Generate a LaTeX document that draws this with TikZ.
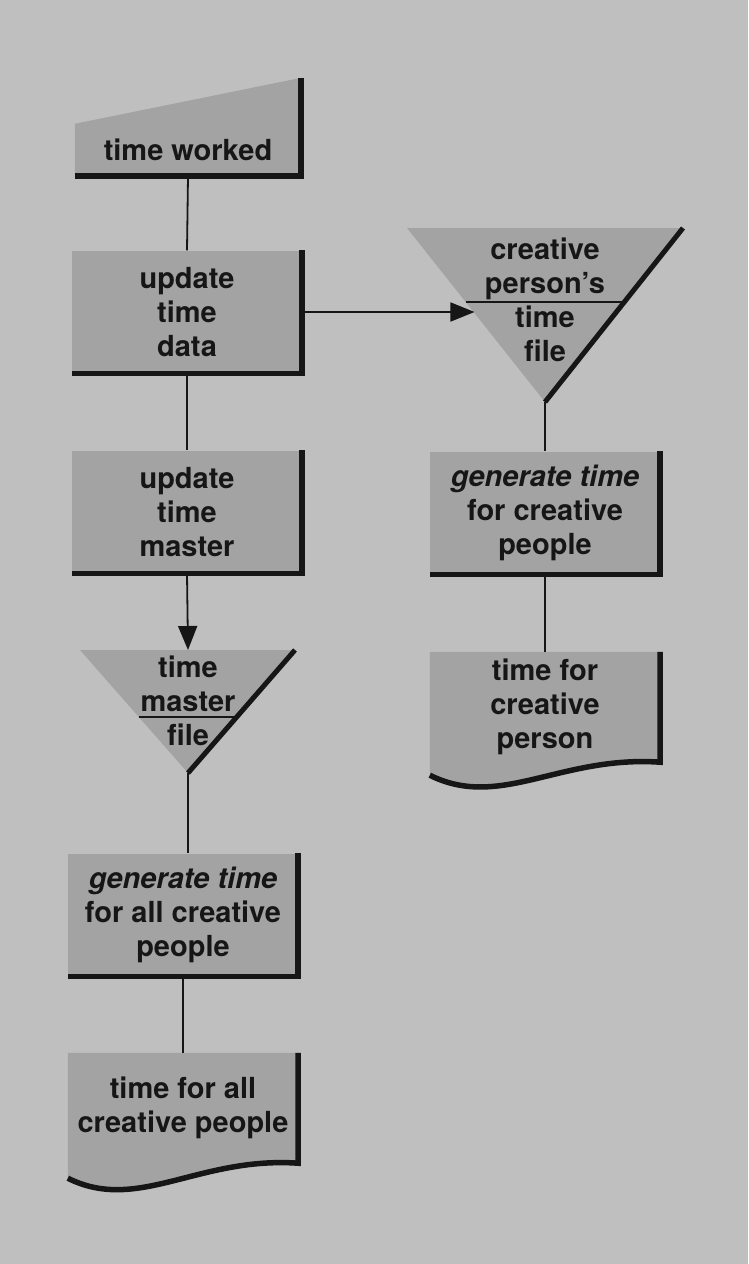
\documentclass[tikz,border=0pt]{standalone}
\usepackage{fontspec}
\setmainfont{TeX Gyre Heros}
\usepackage{xcolor}
\usepackage{tikz}
\usetikzlibrary{arrows.meta,positioning,backgrounds,calc}
\definecolor{pbg}{HTML}{BFBFBF}
\definecolor{pbox}{HTML}{A3A3A3}
\definecolor{pink}{HTML}{161616}
\tikzset{
  procbox/.style={fill=pbox,minimum width=230pt,minimum height=123pt,
                  align=center,inner sep=0pt},
  docbox/.style={minimum width=230pt,minimum height=110pt,
                 align=center,inner sep=0pt},
  lbl/.style={align=center,inner sep=0pt},
  edge/.style={draw=pink,line width=5.5pt,line join=miter},
  conn/.style={draw=pink,line width=1.8pt},
  arr/.style={conn,-{Triangle[length=24pt,width=19pt]}},
}

\begin{document}
\begin{tikzpicture}[x=1pt,y=-1pt,text=pink,
                    font=\fontsize{29}{34}\selectfont\bfseries]

      \begin{scope}[on background layer]
        \fill[pbg] (0,0) rectangle (748,1264);
      \end{scope}
      \useasboundingbox (0,0) rectangle (748,1264);

      % time worked (manual input)
      \node[lbl,minimum width=226pt,minimum height=52pt] (tw) at (188,150) {time worked};

      % left column
      \node[procbox] (utd) at (187,312) {update\\time\\data};
      \node[procbox] (utm) at (187,512) {update\\time\\master};

      % time master file
      \coordinate (tmfl) at (80,650);
      \coordinate (tmfr) at (295,650);
      \coordinate (tmfa) at (188,773);
      \coordinate (tmft) at (188,650);
      \node[lbl] (tmf) at (188,701) {time\\master\\file};

      \node[procbox] (gap) at (183,915) {\textit{generate time}\\for all creative\\people};
      \node[docbox] (tap) at (183,1108) {time for all\\creative people};

      % right column
      \coordinate (cpfl) at (407,228);
      \coordinate (cpfr) at (683,228);
      \coordinate (cpfa) at (545,402);
      \coordinate (cpfin) at ($(cpfl)!0.489!(cpfa)$);
      \node[lbl] (cpf) at (545,300) {creative\\person's\\time\\file};

      \node[procbox] (gcp) at (545,513) {\textit{generate time}\\for creative\\people};
      \node[docbox] (tcp) at (545,707) {time for\\creative\\person};

      % shape fills
      \begin{scope}[on background layer]
        \fill[pbox] (tw.south west) -- (tw.north west)
          -- ($(tw.north east)+(0,-46)$) -- (tw.south east) -- cycle;
        \fill[pbox] (tmfl) -- (tmfr) -- (tmfa) -- cycle;
        \fill[pbox] (cpfl) -- (cpfr) -- (cpfa) -- cycle;
        \fill[pbox] (tcp.north west) -- (tcp.north east) -- (tcp.south east)
          .. controls +(-100,-7) and +(70,35) .. ($(tcp.south west)+(0,13)$) -- cycle;
        \fill[pbox] (tap.north west) -- (tap.north east) -- (tap.south east)
          .. controls +(-100,-7) and +(70,35) .. ($(tap.south west)+(0,15)$) -- cycle;
      \end{scope}

      % heavy edges
      \draw[edge] ($(tw.north east)+(0,-46)$) -- (tw.south east) -- (tw.south west);
      \foreach \n in {utd,utm,gap,gcp}
        \draw[edge] (\n.north east) -- (\n.south east) -- (\n.south west);
      \draw[edge] (tcp.north east) -- (tcp.south east)
        .. controls +(-100,-7) and +(70,35) .. ($(tcp.south west)+(0,13)$);
      \draw[edge] (tap.north east) -- (tap.south east)
        .. controls +(-100,-7) and +(70,35) .. ($(tap.south west)+(0,15)$);
      \draw[edge,line width=5pt] (tmfr) -- (tmfa);
      \draw[edge,line width=5pt] (cpfr) -- (cpfa);

      % file separators
      \draw[conn] ($(tmfl)!0.545!(tmfa)$) -- ($(tmfr)!0.545!(tmfa)$);
      \draw[conn] ($(cpfl)!0.425!(cpfa)$) -- ($(cpfr)!0.425!(cpfa)$);

      % connectors
      \draw[conn] (tw.south) -- (utd.north);
      \draw[conn] (utd.south) -- (utm.north);
      \draw[arr] (utm.south) -- (tmft);
      \draw[conn] (tmfa) -- (tmfa |- gap.north);
      \draw[conn] (gap.south) -- (tap.north);
      \draw[arr] (utd.east) -- (utd.east -| cpfin);
      \draw[conn] (cpfa) -- (gcp.north);
      \draw[conn] (gcp.south) -- (tcp.north);

\end{tikzpicture}
\end{document}
